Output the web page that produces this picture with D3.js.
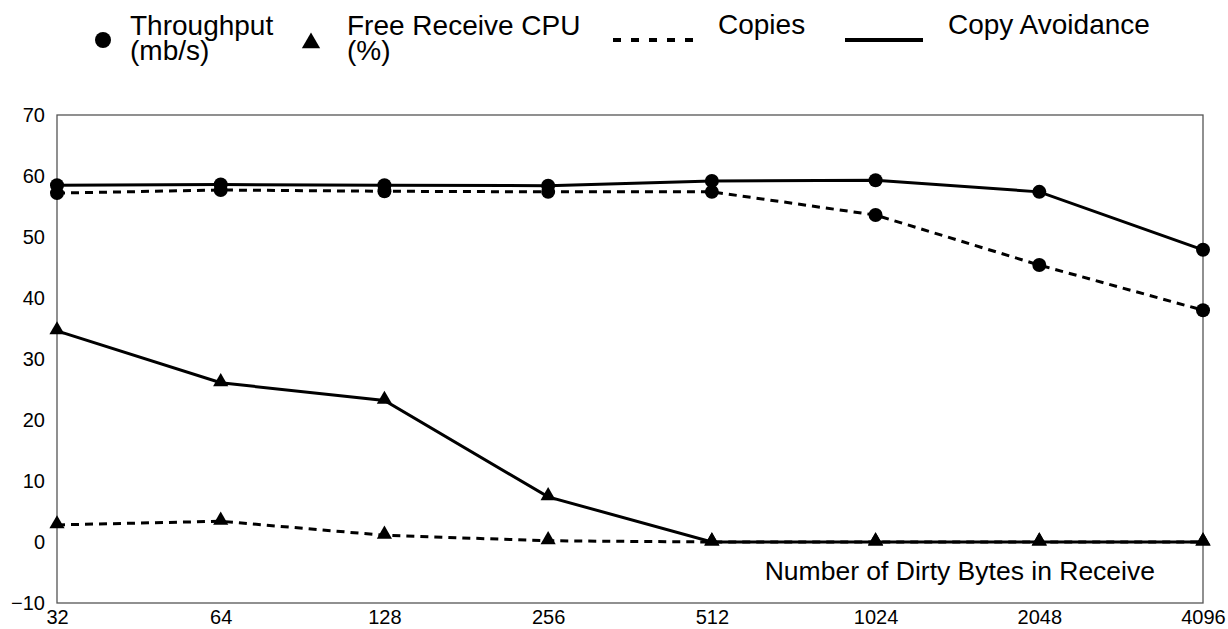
<!DOCTYPE html>
<html><head><meta charset="utf-8">
<script src="https://cdn.jsdelivr.net/npm/d3@7"></script>
<style>body{margin:0;background:#fff}svg{display:block;font-family:"Liberation Sans",Arial,sans-serif}</style>
</head><body>
<svg id="c" width="1228" height="629"></svg>
<script>
const categories = ["32","64","128","256","512","1024","2048","4096"];
const yTicks = [-10,0,10,20,30,40,50,60,70];
const avoidThroughput = [58.5,58.6,58.5,58.4,59.2,59.3,57.4,47.9];
const copiesThroughput = [57.2,57.7,57.5,57.4,57.4,53.6,45.4,38.0];
const avoidCPU = [34.6,26.1,23.2,7.4,0,0,0,0];
const copiesCPU = [2.8,3.4,1.1,0.2,0,0,0,0];
const xLabel = "Number of Dirty Bytes in Receive";

const svg = d3.select("#c");
const L=57,R=1203,T=115,B=603;
const x = d3.scalePoint().domain(categories).range([L,R]);
const y = d3.scaleLinear().domain([-10,70]).range([B,T]);

// frame
svg.append("rect").attr("x",L).attr("y",T).attr("width",R-L).attr("height",B-T)
  .attr("fill","none").attr("stroke","#555").attr("stroke-width",1.3);

const ya = svg.append("g").attr("transform",`translate(${L},0)`)
  .call(d3.axisLeft(y).tickValues(yTicks).tickSize(0).tickPadding(12).tickFormat(d=>d<0?"\u2212"+Math.abs(d):d));
ya.select(".domain").remove();
ya.selectAll("text").attr("font-size",20).attr("font-family","Liberation Sans, Arial").attr("fill","#000");

const xa = svg.append("g").attr("transform",`translate(0,${B})`)
  .call(d3.axisBottom(x).tickSize(0).tickPadding(7));
xa.select(".domain").remove();
xa.selectAll("text").attr("font-size",20).attr("font-family","Liberation Sans, Arial").attr("fill","#000");

const line = d3.line().x((d,i)=>x(categories[i])).y(d=>y(d));
function series(vals,dashed){
  svg.append("path").datum(vals).attr("d",line).attr("fill","none")
    .attr("stroke","#000").attr("stroke-width",3)
    .attr("stroke-dasharray",dashed?"8,6":null);
}
series(copiesThroughput,true);
series(avoidThroughput,false);
series(copiesCPU,true);
series(avoidCPU,false);

const tri = d3.symbol().type(d3.symbolTriangle).size(100);
function circles(vals){
  svg.append("g").selectAll("circle").data(vals).join("circle")
    .attr("cx",(d,i)=>x(categories[i])).attr("cy",d=>y(d)).attr("r",7).attr("fill","#000");
}
function tris(vals){
  svg.append("g").selectAll("path").data(vals).join("path")
    .attr("d",tri).attr("transform",(d,i)=>`translate(${x(categories[i])},${y(d)-1})`).attr("fill","#000");
}
circles(avoidThroughput); circles(copiesThroughput);
tris(avoidCPU); tris(copiesCPU);

svg.append("text").attr("x",1155).attr("y",580).attr("text-anchor","end")
  .attr("font-size",26.5).text(xLabel);

// legend
const lg = svg.append("g").attr("font-size",28);
function twoLine(xp, a, b){
  const t = lg.append("text").attr("x",xp).attr("y",35);
  t.append("tspan").attr("x",xp).attr("y",35).text(a);
  t.append("tspan").attr("x",xp).attr("y",60).text(b);
}
lg.append("circle").attr("cx",103).attr("cy",40).attr("r",8).attr("fill","#000");
twoLine(130,"Throughput","(mb/s)");
lg.append("path").attr("d",d3.symbol().type(d3.symbolTriangle).size(145)).attr("transform","translate(311,43)");
twoLine(347,"Free Receive CPU","(%)");
lg.append("line").attr("x1",613).attr("x2",693).attr("y1",40).attr("y2",40).attr("stroke","#000").attr("stroke-width",4).attr("stroke-dasharray","8,10");
lg.append("text").attr("x",718).attr("y",34).text("Copies");
lg.append("line").attr("x1",845).attr("x2",923).attr("y1",40).attr("y2",40).attr("stroke","#000").attr("stroke-width",4);
lg.append("text").attr("x",948).attr("y",34).text("Copy Avoidance");
</script>
</body></html>
